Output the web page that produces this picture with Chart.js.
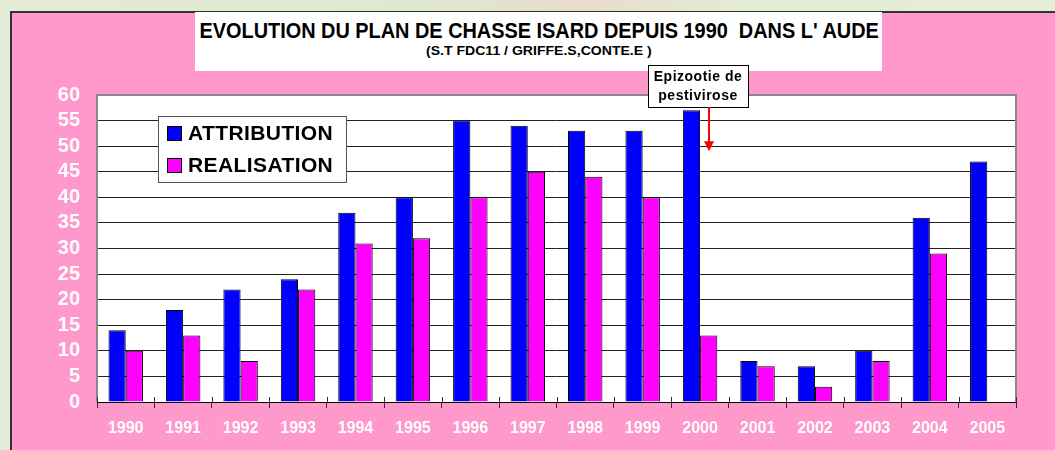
<!DOCTYPE html>
<html>
<head>
<meta charset="utf-8">
<script src="https://cdn.jsdelivr.net/npm/chart.js@4/dist/chart.umd.min.js"></script>
<style>
  html, body { margin: 0; padding: 0; }
  body {
    width: 1055px; height: 450px; overflow: hidden; position: relative;
    background: linear-gradient(90deg, #e4ebd6 0%, #dfe8cf 40%, #e8dccb 55%, #e3ebd3 70%, #e6eed8 100%);
  }
  #pink {
    position: absolute; left: 10px; top: 11px; right: -2px; bottom: -2px;
    background: #ff99cc; border-left: 2px solid #333; border-top: 2px solid #333;
  }
  #titlebox {
    position: absolute; left: 195px; top: 12px; width: 687px; height: 59px;
    background: #fff; font-family: "Liberation Sans Narrow", Arial, sans-serif;
    font-weight: bold; color: #000; overflow: hidden;
  }
  #titlebox span { position: absolute; left: 50%; white-space: nowrap; transform-origin: 0 0; }
  #t1 { top: 6px; font-size: 22px; line-height: 26px; }
  #t2 { top: 31px; font-size: 13px; line-height: 16px; }
  canvas { position: absolute; left: 0; top: 0; }
</style>
</head>
<body>
<div id="pink"></div>
<div id="titlebox">
  <span id="t1">EVOLUTION DU PLAN DE CHASSE ISARD DEPUIS 1990&nbsp; DANS L' AUDE</span>
  <span id="t2">(S.T FDC11 / GRIFFE.S,CONTE.E )</span>
</div>
<canvas id="chart" width="1055" height="450"></canvas>
<script>
// data
const years = ['1990','1991','1992','1993','1994','1995','1996','1997','1998','1999','2000','2001','2002','2003','2004','2005'];
const attribution = [14, 18, 22, 24, 37, 40, 55, 54, 53, 53, 57, 8, 7, 10, 36, 47];
const realisation = [10, 13, 8, 22, 31, 32, 40, 45, 44, 40, 13, 7, 3, 8, 29, null];
const seriesNames = ['ATTRIBUTION', 'REALISATION'];
const seriesColors = ['#0000ff', '#ff00ff'];
const noteLines = ['Epizootie de', 'pestivirose'];
const noteYear = '2000';
const noteArrowTip = 49;

// squeeze the title lines to the width they have in the picture, centred in the box
function fitText(id, w) {
  const el = document.getElementById(id);
  const real = el.offsetWidth;
  const k = w / real;
  el.style.transform = 'translateX(' + (-w / 2) + 'px) scaleX(' + k + ')';
}
fitText('t1', 679);
fitText('t2', 226);

const plotBack = {
  id: 'plotBack',
  beforeDraw(chart) {
    const a = chart.chartArea, ctx = chart.ctx;
    ctx.save();
    ctx.fillStyle = '#fff';
    ctx.fillRect(a.left, a.top, a.right - a.left, a.bottom - a.top);
    ctx.restore();
  },
  beforeDatasetsDraw(chart) {
    const a = chart.chartArea, ctx = chart.ctx;
    ctx.save();
    ctx.strokeStyle = '#888';
    ctx.lineWidth = 2;
    ctx.beginPath();
    ctx.moveTo(a.left, a.bottom);
    ctx.lineTo(a.left, a.top);
    ctx.lineTo(a.right, a.top);
    ctx.lineTo(a.right, a.bottom);
    ctx.stroke();
    // tick marks cross the base line a little
    const xs = chart.scales.x;
    const step = xs.getPixelForTick(1) - xs.getPixelForTick(0);
    ctx.strokeStyle = '#333';
    ctx.lineWidth = 1;
    ctx.beginPath();
    for (let i = 0; i <= years.length; i++) {
      const px = Math.round(xs.getPixelForTick(0) + (i - 0.5) * step) + 0.5;
      ctx.moveTo(px, a.bottom - 5);
      ctx.lineTo(px, a.bottom);
    }
    ctx.stroke();
    ctx.restore();
  }
};

const boxLegend = {
  id: 'boxLegend',
  afterDraw(chart) {
    const ctx = chart.ctx;
    const x = 158, y = 116, w = 188, h = 66;
    ctx.save();
    ctx.fillStyle = '#fff';
    ctx.fillRect(x, y, w, h);
    ctx.strokeStyle = '#555';
    ctx.lineWidth = 1;
    ctx.strokeRect(x + 0.5, y + 0.5, w, h);
    ctx.font = 'bold 21px Arial, "Liberation Sans", sans-serif';
    ctx.letterSpacing = '0.4px';
    ctx.textBaseline = 'middle';
    chart.data.datasets.forEach((ds, i) => {
      const cy = y + 17 + i * 32;
      ctx.fillStyle = ds.backgroundColor;
      ctx.fillRect(x + 9, cy - 7, 14, 14);
      ctx.strokeStyle = '#000';
      ctx.strokeRect(x + 9.5, cy - 6.5, 14, 14);
      ctx.fillStyle = '#000';
      ctx.fillText(ds.label, x + 30, cy + 1);
    });
    ctx.restore();
  }
};

const note = {
  id: 'note',
  afterDraw(chart) {
    const ctx = chart.ctx;
    const meta = chart.getDatasetMeta(1);
    const idx = years.indexOf(noteYear);
    const ax = Math.round(meta.data[idx].x);
    const tip = chart.scales.y.getPixelForValue(noteArrowTip);
    const bx = 648, by = 65, bw = 100, bh = 42;
    ctx.save();
    ctx.fillStyle = '#fff';
    ctx.fillRect(bx, by, bw, bh);
    ctx.strokeStyle = '#000';
    ctx.lineWidth = 1;
    ctx.strokeRect(bx + 0.5, by + 0.5, bw, bh);
    ctx.fillStyle = '#000';
    ctx.font = 'bold 14px Arial, "Liberation Sans", sans-serif';
    ctx.letterSpacing = '0.5px';
    ctx.textAlign = 'center';
    ctx.textBaseline = 'middle';
    ctx.fillText(noteLines[0], bx + bw / 2, by + 12);
    ctx.fillText(noteLines[1], bx + bw / 2, by + 31);
    ctx.strokeStyle = '#ff0000';
    ctx.fillStyle = '#ff0000';
    ctx.lineWidth = 2;
    ctx.beginPath();
    ctx.moveTo(ax, by + bh);
    ctx.lineTo(ax, tip - 9);
    ctx.stroke();
    ctx.beginPath();
    ctx.moveTo(ax - 5, tip - 10);
    ctx.lineTo(ax + 5, tip - 10);
    ctx.lineTo(ax, tip);
    ctx.closePath();
    ctx.fill();
    ctx.restore();
  }
};

new Chart(document.getElementById('chart'), {
  type: 'bar',
  data: {
    labels: years,
    datasets: [
      { label: seriesNames[0], data: attribution, backgroundColor: seriesColors[0] },
      { label: seriesNames[1], data: realisation, backgroundColor: seriesColors[1] }
    ]
  },
  options: {
    responsive: false,
    animation: false,
    layout: { padding: { top: 95, right: 39, left: 0, bottom: 0 } },
    datasets: {
      bar: { borderColor: '#000', borderWidth: 1, categoryPercentage: 0.6, barPercentage: 1.0 }
    },
    plugins: {
      legend: { display: false },
      title: { display: false },
      tooltip: { enabled: false }
    },
    scales: {
      y: {
        min: 0, max: 60,
        ticks: {
          stepSize: 5, autoSkip: false, maxTicksLimit: 20, color: '#fff', padding: 17,
          font: { family: 'Arial, "Liberation Sans", sans-serif', size: 20, weight: 'bold', lineHeight: 1 }
        },
        grid: { color: '#222', lineWidth: 1, drawTicks: false },
        border: { display: false },
        afterFit(s) { s.width = 97; }
      },
      x: {
        offset: true,
        ticks: { color: '#fff', padding: 11, font: { family: 'Arial, "Liberation Sans", sans-serif', size: 16, weight: 'bold' } },
        grid: { offset: true, drawOnChartArea: false, drawTicks: true, tickLength: 6, color: '#333' },
        border: { display: true, color: '#000', width: 1 },
        afterFit(s) { s.height = 48; }
      }
    }
  },
  plugins: [plotBack, boxLegend, note]
});
</script>
</body>
</html>
